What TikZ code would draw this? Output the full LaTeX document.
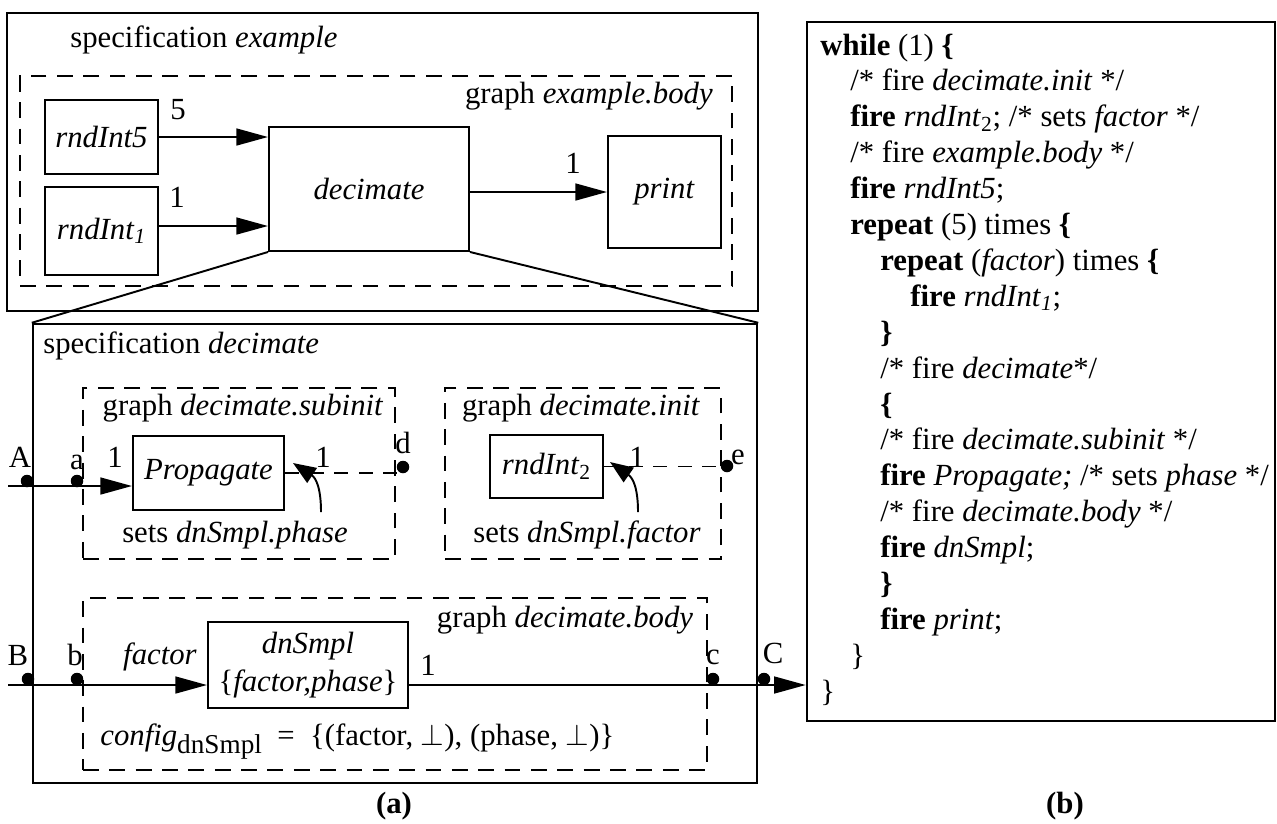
\documentclass[tikz,border=0pt]{standalone}
\usepackage{fontspec}
\setmainfont{Liberation Serif}
\usetikzlibrary{arrows.meta,fit,calc}

% one line of the schedule: name, indent level, line number, text
\newcommand\cl[4]{\node[anchor=base west] (#1) at ({820+30*#2},{55+35.9*#3}) {#4};}

\begin{document}
\begin{tikzpicture}[x=0.02cm,y=-0.02cm,
  every node/.style={font=\fontsize{17.5}{20.4}\selectfont, inner sep=0pt},
  frame/.style={draw, line width=1.4pt, inner sep=0pt},
  blk/.style={draw, line width=1.1pt, inner sep=0pt},
  grp/.style={draw, line width=1.1pt, dash pattern=on 9pt off 6pt, inner sep=0pt},
  flow/.style={line width=1.4pt, -{Triangle[length=18pt,width=9.5pt]}},
  setarr/.style={line width=1.1pt, -{Triangle[length=13pt,width=10pt]}},
  outdash/.style={line width=0.9pt, dash pattern=on 8pt off 6pt},
  port/.style={circle, fill, inner sep=0pt, minimum size=0.25cm},
  lbl/.style={inner sep=0pt, align=center}
]
\useasboundingbox (0,0) rectangle (1277,823);

% ---------- specification example ----------
\node[frame, fit={(7,13) (758,311)}] (spex) {};
\node[anchor=base west] (tspex) at (70,47) {specification \textit{example}};
\node[grp, fit={(20,76) (732,286)}] (gexb) {};
\node[anchor=base east] (tgexb) at (713,103) {graph \textit{example.body}};

\node[blk, fit={(45,100) (158,174)}] (r5) {};
\node[lbl] (tr5) at (r5.center) {\textit{rndInt5}};
\node[blk, fit={(45,187) (158,275)}] (r1) {};
\node[lbl] (tr1) at (r1.center) {\textit{rndInt}\textsubscript{\textit{1}}};
\node[blk, fit={(269,127) (469,251)}] (dec) {};
\node[lbl] (tdec) at (dec.center) {\textit{decimate}};
\node[blk, fit={(608,136) (721,248)}] (pr) {};
\node[lbl] (tpr) at (pr.center) {\textit{print}};

\coordinate (r1out) at (158,226);
\draw[flow] (r5.east) -- (r5.east -| dec.west);
\draw[flow] (r1out) -- (r1out -| dec.west);
\draw[flow] (dec.east |- pr.west) -- (pr.west);
\node[lbl] (n5) at (178,110) {5};
\node[lbl] (n1a) at (177,197) {1};
\node[lbl] (n1b) at (573,163) {1};

% ---------- specification decimate ----------
\node[frame, fit={(33,324) (757,783)}] (spdec) {};
\draw[line width=1.1pt] (dec.south west) -- (spdec.north west);
\draw[line width=1.1pt] (dec.south east) -- (spdec.north east);
\node[anchor=base west] (tspdec) at (43,353) {specification \textit{decimate}};

% graph decimate.subinit
\node[grp, fit={(83,388) (395,559)}] (gsub) {};
\node[lbl] (tgsub) at (243,408) {graph \textit{decimate.subinit}};
\node[blk, fit={(133,436) (284,510)}] (prop) {};
\node[lbl] (tprop) at (prop.center) {\textit{Propagate}};
\node[lbl] (tsub) at (235,535) {sets \textit{dnSmpl.phase}};

% graph decimate.init
\node[grp, fit={(445,388) (721,559)}] (ginit) {};
\node[lbl] (tginit) at (581,408) {graph \textit{decimate.init}};
\node[blk, fit={(490,435) (603,498)}] (r2) {};
\node[lbl] (tr2) at (r2.center) {\textit{rndInt}\textsubscript{2}};
\node[lbl] (tinit) at (587,535) {sets \textit{dnSmpl.factor}};

% graph decimate.body
\node[grp, fit={(83,598) (707,770)}] (gbody) {};
\node[lbl] (tgbody) at (565,620) {graph \textit{decimate.body}};
\node[blk, fit={(208,622) (408,708)}] (dn) {};
\node[lbl, font=\fontsize{17.5}{21.5}\selectfont] (tdn) at (dn.center)
  {\textit{dnSmpl}\\\{\textit{factor,phase}\}};
\node[anchor=base west] (cfg) at (100,745)
  {\textit{config}\raisebox{-0.6ex}{\fontsize{15.5}{15.5}\selectfont dnSmpl}\ \ =\ \ \{(factor,\ $\perp$),\ (phase,\ $\perp$)\}};

% ports
\node[port] (pA) at (27,481) {};
\node[port] (pa) at (77,481) {};
\node[port] (pd) at (403,467) {};
\node[port] (pe) at (727,466) {};
\node[port] (pB) at (28,679) {};
\node[port] (pb) at (77,679) {};
\node[port] (pc) at (713,679) {};
\node[port] (pC) at (764,679) {};
\node[lbl] (tA) at (20,457) {A};
\node[lbl] (ta) at (77,462) {a};
\node[lbl] (td) at (403,443) {d};
\node[lbl] (te) at (738,457) {e};
\node[lbl] (tB) at (18,655) {B};
\node[lbl] (tb) at (75,655) {b};
\node[lbl] (tc) at (713,657) {c};
\node[lbl] (tC) at (773,653) {C};

% input A -> Propagate
\coordinate (inA) at (8,486);
\draw[flow] (inA) -- (inA -| prop.west);
\node[lbl] (n1c) at (115,457) {1};
% Propagate -> d and the parameter it sets
\draw[outdash] (prop.east) -- (prop.east -| pd);
\node[lbl] (n1d) at (323,457) {1};
\coordinate (tailP) at (321,512);
\coordinate (tipP) at (293,463);
\draw[setarr] (tailP) .. controls (321,488) and (316,478) .. (tipP);

% rndInt2 -> e and the parameter it sets
\draw[outdash] (r2.east) -- (r2.east -| pe);
\node[lbl] (n1e) at (637,457) {1};
\coordinate (tailR) at (638,512);
\coordinate (tipR) at (610,462);
\draw[setarr] (tailR) .. controls (638,488) and (633,478) .. (tipR);

% input B -> dnSmpl -> schedule
\coordinate (inB) at (8,685);
\draw[flow] (inB) -- (inB -| dn.west);
\node[lbl] (tfac) at (160,657) {\textit{factor}};
\node[lbl] (n1f) at (428,665) {1};

% ---------- schedule ----------
\node[frame, fit={(807,22) (1275,721)}] (code) {};
\draw[flow] (inB -| dn.east) -- (inB -| code.west);

\cl{l0}{0}{0}{\textbf{while} (1) \textbf{\{}}
\cl{l1}{1}{1}{/* fire \textit{decimate.init} */}
\cl{l2}{1}{2}{\textbf{fire} \textit{rndInt}\textsubscript{2}; /* sets \textit{factor} */}
\cl{l3}{1}{3}{/* fire \textit{example.body} */}
\cl{l4}{1}{4}{\textbf{fire} \textit{rndInt5};}
\cl{l5}{1}{5}{\textbf{repeat} (5) times \textbf{\{}}
\cl{l6}{2}{6}{\textbf{repeat} (\textit{factor}) times \textbf{\{}}
\cl{l7}{3}{7}{\textbf{fire} \textit{rndInt}\textsubscript{\textit{1}};}
\cl{l8}{2}{8}{\textbf{\}}}
\cl{l9}{2}{9}{/* fire \textit{decimate}*/}
\cl{l10}{2}{10}{\textbf{\{}}
\cl{l11}{2}{11}{/* fire \textit{decimate.subinit} */}
\cl{l12}{2}{12}{\textbf{fire} \textit{Propagate;} /* sets \textit{phase} */}
\cl{l13}{2}{13}{/* fire \textit{decimate.body} */}
\cl{l14}{2}{14}{\textbf{fire} \textit{dnSmpl};}
\cl{l15}{2}{15}{\textbf{\}}}
\cl{l16}{2}{16}{\textbf{fire} \textit{print};}
\cl{l17}{1}{17}{\}}
\cl{l18}{0}{18}{\}}

\node[lbl] (capa) at (394,806) {\textbf{(a)}};
\node[lbl] (capb) at (1065,806) {\textbf{(b)}};
\end{tikzpicture}
\end{document}
